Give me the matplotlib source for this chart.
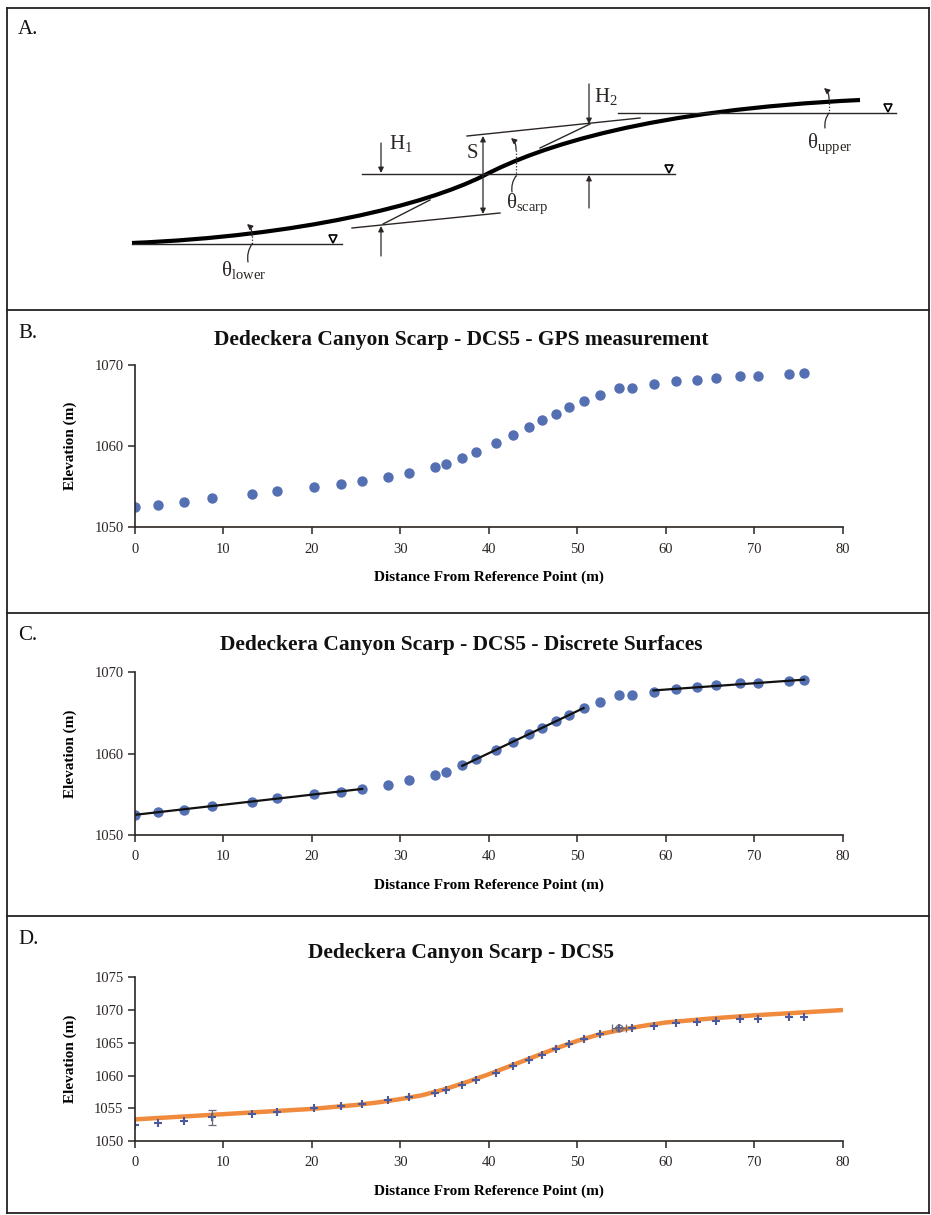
import matplotlib
matplotlib.use("Agg")
import matplotlib.pyplot as plt
from matplotlib.path import Path
from matplotlib.patches import PathPatch, FancyArrowPatch
from matplotlib.lines import Line2D
import numpy as np

plt.rcParams['font.family'] = ['Liberation Serif', 'DejaVu Serif']
plt.rcParams['mathtext.fontset'] = 'custom'
plt.rcParams['mathtext.rm'] = 'Liberation Serif'
plt.rcParams['mathtext.it'] = 'Liberation Serif:italic'
plt.rcParams['mathtext.bf'] = 'Liberation Serif:bold'

# GPS profile, DCS5
dist = [0.0, 2.6, 5.6, 8.7, 13.2, 16.1, 20.2, 23.3, 25.7, 28.6, 31.0, 33.9, 35.2,
        37.0, 38.6, 40.8, 42.7, 44.5, 46.0, 47.6, 49.1, 50.7, 52.5, 54.7, 56.2,
        58.6, 61.1, 63.5, 65.7, 68.4, 70.4, 73.9, 75.6]
elev = [1052.5, 1052.8, 1053.1, 1053.6, 1054.1, 1054.5, 1055.0, 1055.3, 1055.7,
        1056.2, 1056.7, 1057.4, 1057.8, 1058.6, 1059.3, 1060.4, 1061.4, 1062.4,
        1063.2, 1064.0, 1064.8, 1065.6, 1066.3, 1067.2, 1067.2, 1067.6, 1068.0,
        1068.2, 1068.4, 1068.7, 1068.7, 1068.9, 1069.0]

# point ranges used for the three planar surfaces (lower, scarp, upper)
surfaces = [(0, 9), (13, 22), (25, 33)]

# modelled profile
model_x = [0, 5, 10, 15, 20, 25, 27.5, 30, 32.5, 35, 37.5, 40, 42.5, 45, 47.5,
           50, 52.5, 55, 57.5, 60, 65, 70, 75, 80]
model_z = [1053.3, 1053.7, 1054.1, 1054.5, 1054.9, 1055.5, 1055.9, 1056.4, 1057.0,
           1057.9, 1059.0, 1060.2, 1061.5, 1062.8, 1064.1, 1065.3, 1066.3, 1067.0,
           1067.6, 1068.1, 1068.7, 1069.2, 1069.6, 1070.0]

# uncertainty bars
err_x = [8.7, 54.7]
err_z = [1053.6, 1067.2]
err_dx = [0.0, 0.8]
err_dz = [1.15, 0.0]

titles = ["Dedeckera Canyon Scarp - DCS5 - GPS measurement",
          "Dedeckera Canyon Scarp - DCS5 - Discrete Surfaces",
          "Dedeckera Canyon Scarp - DCS5"]

W, H = 931, 1215
fig = plt.figure(figsize=(W / 100, H / 100), dpi=100)

blue = '#5470b3'
ink = '#2b2624'


def box(x0, y0, x1, y1):
    return [x0 / W, 1 - y1 / H, (x1 - x0) / W, (y1 - y0) / H]


# ---- panel A: scarp schematic, drawn in pixel-like coordinates ----
axA = fig.add_axes(box(0, 8, W, 310))
axA.set_xlim(0, W)
axA.set_ylim(310, 8)
axA.axis('off')

verts = [(132, 243), (300, 236), (425, 205), (483, 176),
         (540, 146), (650, 110), (860, 100)]
codes = [Path.MOVETO, Path.CURVE4, Path.CURVE4, Path.CURVE4,
         Path.CURVE4, Path.CURVE4, Path.CURVE4]
axA.add_patch(PathPatch(Path(verts, codes), fill=False, lw=3.0, color='black',
                        capstyle='butt'))

thin = dict(color=ink, lw=1.0)
axA.plot([132, 342], [244, 244], **thin)
axA.plot([362, 675], [174, 174], **thin)
axA.plot([618, 896], [113, 113], **thin)
axA.plot([352, 500], [228, 213], **thin)
axA.plot([467, 640], [136, 118], **thin)
axA.plot([383, 430], [224, 200], **thin)
axA.plot([540, 590], [148, 124], **thin)
axA.plot([333, 669, 888], [239, 169, 108], ls='none', marker='v', ms=6,
         mfc='white', mec='black', mew=1.2)


def arrow(p0, p1, style='-|>', rad=0.0, ls='-'):
    axA.add_patch(FancyArrowPatch(p0, p1, arrowstyle=style, mutation_scale=8,
                                  lw=0.9, color=ink, linestyle=ls,
                                  connectionstyle=f"arc3,rad={rad}",
                                  shrinkA=0, shrinkB=0))


arrow((483, 176), (483, 136))
arrow((483, 176), (483, 214))
arrow((381, 143), (381, 173))
arrow((381, 256), (381, 226))
arrow((589, 84), (589, 124))
arrow((589, 208), (589, 175))

# angle arcs
for cx, ytop, ymid, ybot in [(829, 88, 113, 128), (516, 138, 176, 192),
                             (252, 224, 244, 262)]:
    arrow((cx, ytop + 12), (cx - 5, ytop), rad=0.25)
    axA.plot([cx, cx], [ytop + 12, ymid], color=ink, lw=0.9, ls=(0, (1, 1.5)))
    arrow((cx - 4, ybot), (cx, ymid), rad=-0.2, style='-')

tkw = dict(fontsize=15, color=ink, va='baseline')
axA.text(389, 149, r'$\mathrm{H_1}$', **tkw)
axA.text(594, 102, r'$\mathrm{H_2}$', **tkw)
axA.text(467, 158, 'S', **tkw)
axA.text(807, 148, r'$\mathrm{θ_{upper}}$', **tkw)
axA.text(506, 208, r'$\mathrm{θ_{scarp}}$', **tkw)
axA.text(221, 276, r'$\mathrm{θ_{lower}}$', **tkw)

# ---- panels B-D ----
panels = [(365.0, 527.3, 1070), (672.3, 835.0, 1070), (977.3, 1141.0, 1075)]
axes = []
for (top, bot, ymax) in panels:
    ax = fig.add_axes(box(134.7, top, 843.0, bot))
    ax.set_xlim(0, 80)
    ax.set_ylim(1050, ymax)
    ax.set_xticks(range(0, 81, 10))
    ax.set_yticks(range(1050, ymax + 1, 10 if ymax == 1070 else 5))
    for s in ['top', 'right']:
        ax.spines[s].set_visible(False)
    for s in ['left', 'bottom']:
        ax.spines[s].set_linewidth(1.2)
        ax.spines[s].set_color(ink)
    ax.tick_params(length=5, width=1.1, color=ink, labelsize=10.5,
                   labelcolor=ink, pad=3)
    ax.tick_params(axis='x', pad=6)
    ax.set_xlabel('Distance From Reference Point (m)', fontsize=11,
                  fontweight='bold', va='center')
    ax.xaxis.set_label_coords(0.5, -50 / (bot - top))
    ax.set_ylabel('Elevation (m)', fontsize=11, fontweight='bold', va='center')
    ax.yaxis.set_label_coords((70 - 134.7) / (843 - 134.7), 0.5)
    ax.patch.set_alpha(0)
    axes.append(ax)

axB, axC, axD = axes
axB.plot(dist, elev, 'o', color=blue, ms=7.5, mew=0)
axC.plot(dist, elev, 'o', color=blue, ms=7.5, mew=0)

d = np.array(dist)
e = np.array(elev)
for i0, i1 in surfaces:
    k, b = np.polyfit(d[i0:i1], e[i0:i1], 1)
    xs = np.array([d[i0], d[i1 - 1]])
    axC.plot(xs, k * xs + b, color='#111111', lw=1.6)

axD.plot(model_x, model_z, color='#f08a3c', lw=3.2, solid_capstyle='butt')
axD.plot(dist, elev, '+', color='#4b5a9c', ms=5.5, mew=1.5)
axD.errorbar(err_x, err_z, xerr=err_dx, yerr=err_dz, fmt='none',
             ecolor='#6a6a7a', elinewidth=0.9, capsize=3, capthick=0.9)
axD.plot(err_x[1], err_z[1], 'o', ms=5, mfc='none', mec='#6a6a7a', mew=0.9)

# titles and panel letters
for ttl, y in zip(titles, [340, 645, 953]):
    fig.text(461 / W, 1 - y / H, ttl, ha='center', va='center', fontsize=15.5,
             fontweight='bold', color='#111111')
for lab, y in zip(['A.', 'B.', 'C.', 'D.'], [30, 333, 636, 939]):
    fig.text(18 / W, 1 - y / H, lab, ha='left', va='center', fontsize=15,
             color='#111111')

# panel frames
lkw = dict(color='#222222', lw=1.3, transform=fig.transFigure)
for y in [8, 310, 613, 916, 1213]:
    fig.add_artist(Line2D([7 / W, 929 / W], [1 - y / H, 1 - y / H], **lkw))
for x in [7, 929]:
    fig.add_artist(Line2D([x / W, x / W], [1 - 8 / H, 1 - 1213 / H], **lkw))

fig.savefig('out.png', dpi=100)
